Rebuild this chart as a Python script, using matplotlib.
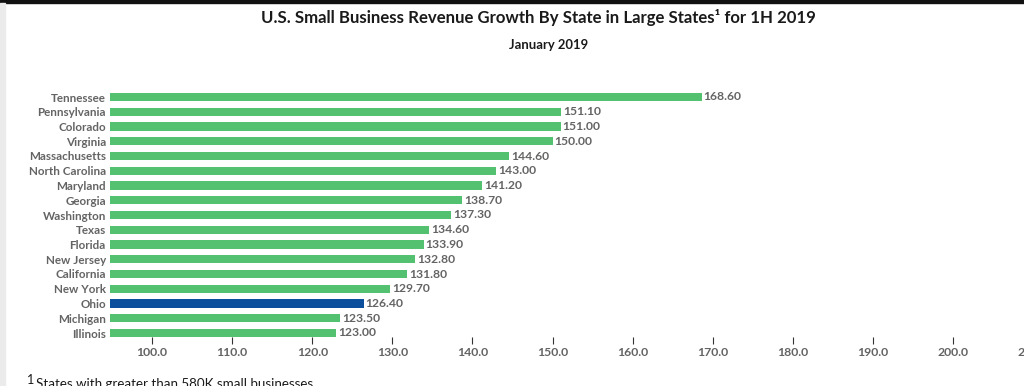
import matplotlib
matplotlib.use("Agg")
import matplotlib.pyplot as plt
from matplotlib.patches import Rectangle

states = ["Tennessee", "Pennsylvania", "Colorado", "Virginia", "Massachusetts",
          "North Carolina", "Maryland", "Georgia", "Washington", "Texas", "Florida",
          "New Jersey", "California", "New York", "Ohio", "Michigan", "Illinois"]
values = [168.6, 151.1, 151.0, 150.0, 144.6, 143.0, 141.2, 138.7, 137.3, 134.6,
          133.9, 132.8, 131.8, 129.7, 126.4, 123.5, 123.0]
highlight = "Ohio"
xticks = [100, 110, 120, 130, 140, 150, 160, 170, 180, 190, 200, 210]

GREEN = "#54c170"
BLUE = "#0c4f9c"
GRAY = "#646464"

plt.rcParams['font.family'] = ['Lato', 'DejaVu Sans']

W, H = 1024, 386
fig = plt.figure(figsize=(W / 100, H / 100), dpi=100)

# screenshot decorations
fig.patches.append(Rectangle((0, 1 - 3 / H), 1, 3 / H, transform=fig.transFigure,
                             color="#111111", zorder=0))
fig.patches.append(Rectangle((0, 0), 5 / W, 1 - 3 / H, transform=fig.transFigure,
                             color="#ebebeb", zorder=0))

xmin = 94.75
px_per_unit = 8.01
left_px, right_px = 110, 1060
row_px = 14.75
first_px = 97.0
n = len(states)
top_px = first_px - 0.5 * row_px
bot_px = first_px + (n - 1 + 0.27) * row_px
ax = fig.add_axes([left_px / W, 1 - bot_px / H, (right_px - left_px) / W,
                   (bot_px - top_px) / H])
ax.set_xlim(xmin, xmin + (right_px - left_px) / px_per_unit)
ax.set_ylim(n - 1 + 0.27, -0.5)

ypos = list(range(n))
colors = [BLUE if s == highlight else GREEN for s in states]
ax.barh(ypos, [v - xmin for v in values], left=xmin, height=0.55, color=colors)

for y, v in zip(ypos, values):
    ax.text(v + 0.25, y, f"{v:.2f}", va="center", ha="left", fontsize=8.7,
            color=GRAY, fontweight="bold")

ax.set_yticks(ypos)
ax.set_yticklabels(states, fontsize=8.4, color=GRAY, fontweight="bold")
ax.tick_params(axis="y", length=0, pad=3)
ax.set_xticks(xticks)
ax.set_xticklabels([f"{t:.1f}" for t in xticks], fontsize=8.8, color=GRAY,
                   fontweight="bold")
ax.tick_params(axis="x", length=5, width=0.8, color="#333333", pad=2)
for sp in ax.spines.values():
    sp.set_visible(False)
ax.set_facecolor("none")

fig.text(538 / W, 1 - 18 / H, "U.S. Small Business Revenue Growth By State in Large States\u00b9 for 1H 2019",
         ha="center", va="center", fontsize=12.1, color="#1a1a1a", fontweight="bold")
fig.text(549 / W, 1 - 45 / H, "January 2019", ha="center", va="center",
         fontsize=9.4, color="#1a1a1a", fontweight="bold")
fig.text(27 / W, 1 - 374 / H, "1", ha="left", va="top", fontsize=9, color="#1a1a1a")
fig.text(36 / W, 1 - 378 / H, "States with greater than 580K small businesses",
         ha="left", va="top", fontsize=9.6, color="#1a1a1a")

fig.savefig("out.png", dpi=100)
